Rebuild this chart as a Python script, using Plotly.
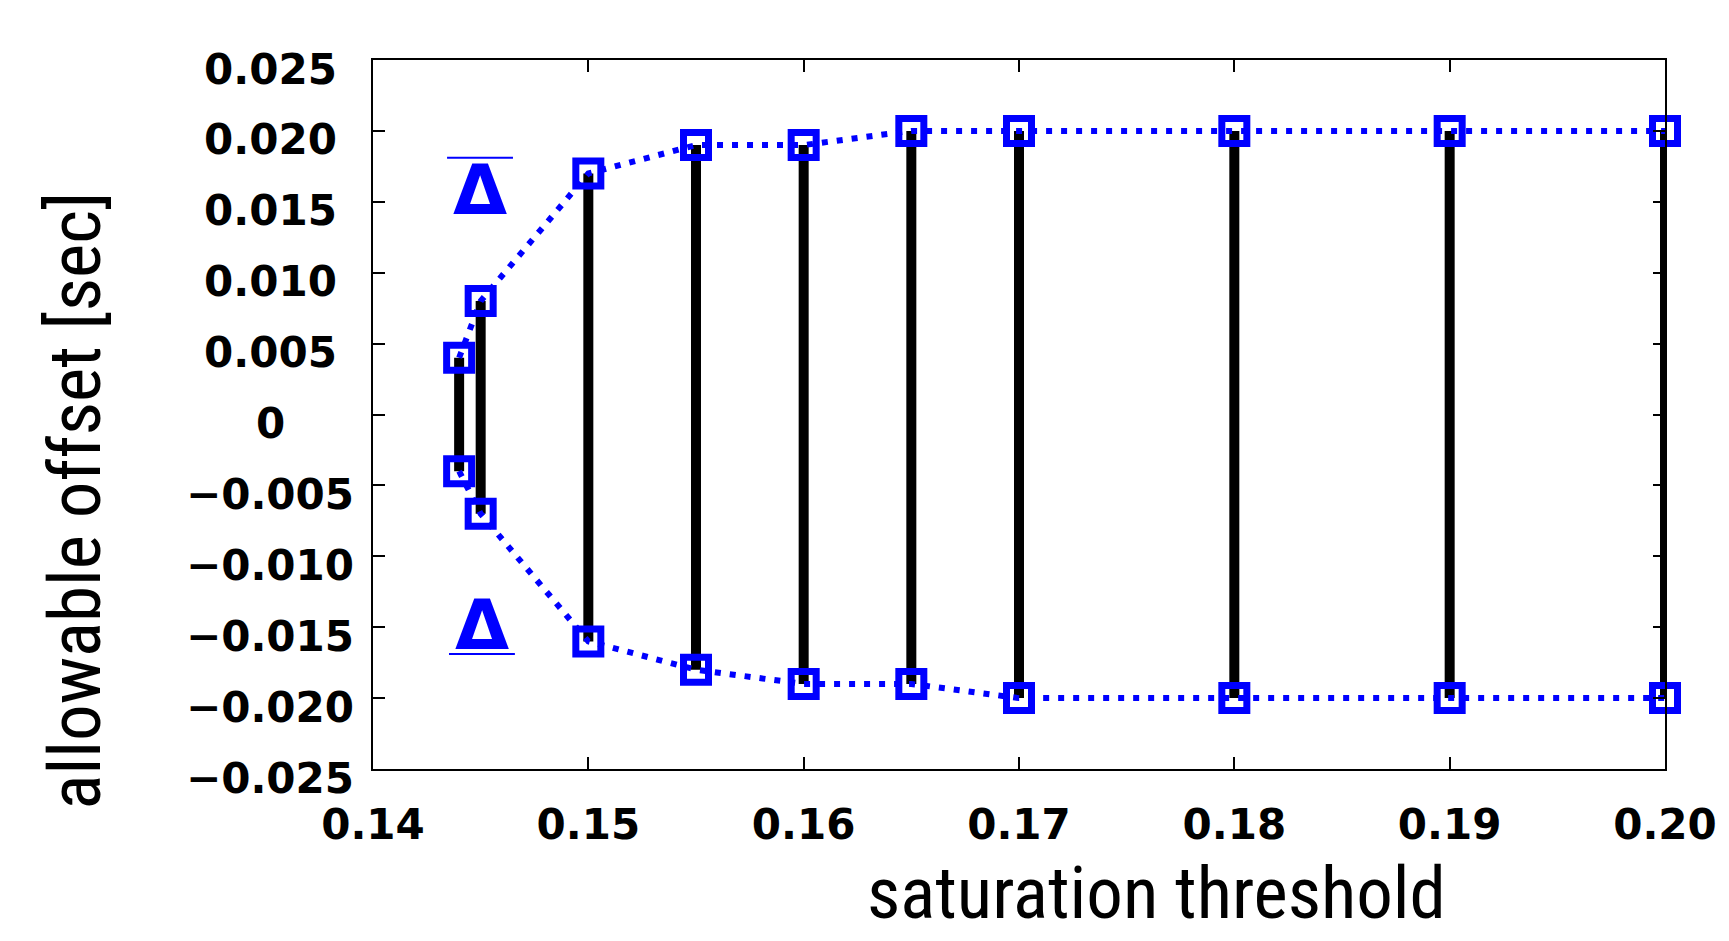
import plotly.graph_objects as go

# ---- data ----
thresholds = [0.144, 0.145, 0.150, 0.155, 0.160, 0.165, 0.170, 0.180, 0.190, 0.200]
upper_offset = [0.004, 0.008, 0.017, 0.019, 0.019, 0.020, 0.020, 0.020, 0.020, 0.020]
lower_offset = [-0.004, -0.007, -0.016, -0.018, -0.019, -0.019, -0.020, -0.020, -0.020, -0.020]

x_tickvals = [0.14, 0.15, 0.16, 0.17, 0.18, 0.19, 0.20]
x_ticktext = ["0.14", "0.15", "0.16", "0.17", "0.18", "0.19", "0.20"]
y_tickvals = [0.025, 0.020, 0.015, 0.010, 0.005, 0.0, -0.005, -0.010, -0.015, -0.020, -0.025]
y_ticktext = ["0.025", "0.020", "0.015", "0.010", "0.005", "0",
              "\u22120.005", "\u22120.010", "\u22120.015", "\u22120.020", "\u22120.025"]

# label positions (data coords)
delta_upper = dict(x=0.14495, y=0.01585, bar_y=0.01811, bar_x0=0.14344, bar_x1=0.14650)
delta_lower = dict(x=0.14506, y=-0.01486, bar_y=-0.01689, bar_x0=0.14353, bar_x1=0.14659)

BLUE = "#0000ff"
TICK_FONT = dict(family="DejaVu Sans", size=42, color="black", weight="bold")
TITLE_FAMILY = "Liberation Sans Narrow, Roboto Condensed, Arial Narrow, Liberation Sans, sans-serif"

# page-pixel geometry of the plot area (browser body has an 8px margin)
BODY = 8
PL, PR, PT, PB = 373, 1667, 60, 769
W, H = 1729, 941
PW, PH = PR - PL, PB - PT


def px_to_paper(px, py):
    return (px - PL) / PW, 1 - (py - PT) / PH


# vertical range bars
bar_x, bar_y = [], []
for x, lo, hi in zip(thresholds, lower_offset, upper_offset):
    bar_x += [x, x, None]
    bar_y += [lo, hi, None]

fig = go.Figure()
fig.add_trace(go.Scatter(x=bar_x, y=bar_y, mode="lines",
                         line=dict(color="black", width=10), showlegend=False, hoverinfo="skip"))
for series in (upper_offset, lower_offset):
    fig.add_trace(go.Scatter(
        x=thresholds, y=series, mode="lines+markers",
        line=dict(color=BLUE, width=6, dash="6px,9px"),
        marker=dict(symbol="square-open", size=25, color=BLUE, line=dict(color=BLUE, width=7)),
        showlegend=False, cliponaxis=False))

# Delta labels with over/underline
for d in (delta_upper, delta_lower):
    fig.add_annotation(x=d["x"], y=d["y"], xref="x", yref="y", text="\u0394",
                       showarrow=False,
                       font=dict(family="DejaVu Sans", size=70, color=BLUE, weight="bold"),
                       xanchor="center", yanchor="middle")
    fig.add_shape(type="line", xref="x", yref="y", x0=d["bar_x0"], x1=d["bar_x1"],
                  y0=d["bar_y"], y1=d["bar_y"], line=dict(color=BLUE, width=2))

# y tick labels (centred, as in the reference)
ylab_x, _ = px_to_paper(270, 0)
for v, t in zip(y_tickvals, y_ticktext):
    fig.add_annotation(x=ylab_x, y=v, xref="paper", yref="y", text=t, showarrow=False,
                       font=TICK_FONT, xanchor="center", yanchor="middle", yshift=-9)

# axis titles
tx, ty = px_to_paper(1158, 893)
fig.add_annotation(x=tx, y=ty, xref="paper", yref="paper", text="saturation threshold",
                   showarrow=False, font=dict(family=TITLE_FAMILY, size=73, color="black"),
                   xanchor="center", yanchor="middle")
ax_, ay_ = px_to_paper(75, 500)
fig.add_annotation(x=ax_, y=ay_, xref="paper", yref="paper", text="allowable offset [sec]",
                   textangle=-90, showarrow=False,
                   font=dict(family=TITLE_FAMILY, size=73, color="black"),
                   xanchor="center", yanchor="middle")

fig.update_layout(
    width=W - BODY, height=H - BODY,
    margin=dict(l=PL - BODY, r=W - PR, t=PT - BODY, b=H - PB),
    paper_bgcolor="white", plot_bgcolor="white",
    showlegend=False,
)

fig.update_xaxes(range=[0.14, 0.20], tickvals=x_tickvals, ticktext=x_ticktext,
                 showgrid=False, zeroline=False, showline=True, linecolor="black", linewidth=2,
                 mirror="ticks", ticks="inside", ticklen=12, tickwidth=2, tickcolor="black",
                 tickfont=TICK_FONT, ticklabelstandoff=18)
fig.update_yaxes(range=[-0.025, 0.025], tickvals=y_tickvals, showticklabels=False,
                 showgrid=False, zeroline=False, showline=True, linecolor="black", linewidth=2,
                 mirror="ticks", ticks="inside", ticklen=12, tickwidth=2, tickcolor="black")

fig.write_html("out.html")
